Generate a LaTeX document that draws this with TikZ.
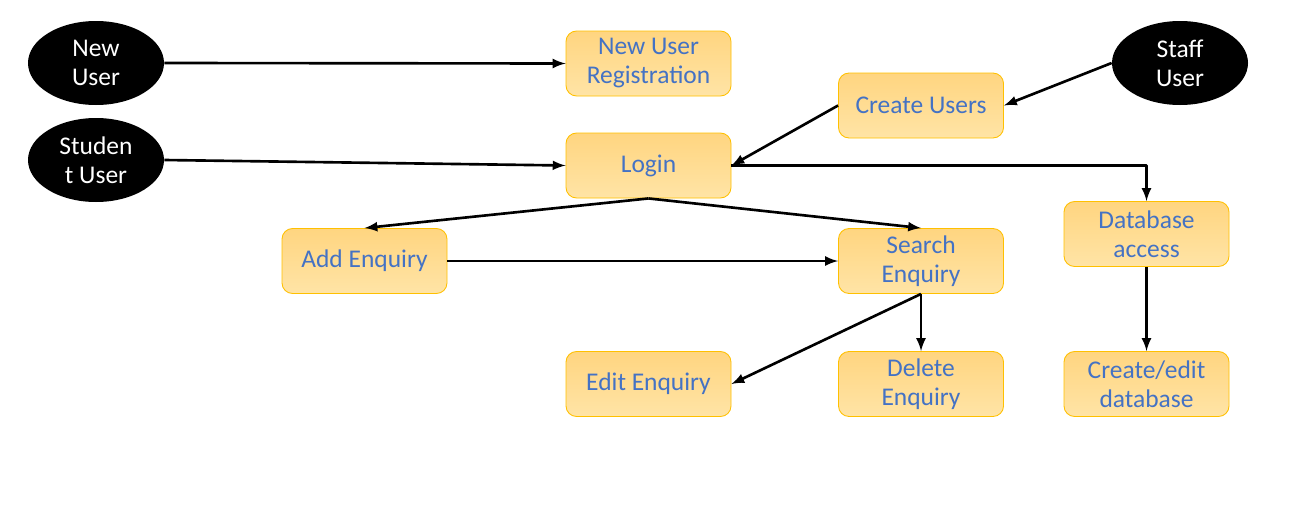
\documentclass[tikz,border=0pt]{standalone}
\usepackage{fontspec}
\setmainfont{Carlito}
\usetikzlibrary{shapes.geometric}

\definecolor{boxtop}{HTML}{FFD580}
\definecolor{boxbot}{HTML}{FFE4A6}
\definecolor{boxline}{HTML}{FFC000}
\definecolor{boxtext}{HTML}{4472C4}

\tikzset{
    actor/.style={ellipse, fill=black, text=white, minimum width=2.72cm, minimum height=1.68cm,
        inner sep=0pt, align=center, font=\fontsize{14.5}{16.5}\selectfont},
    task/.style={rounded corners=6pt, draw=boxline, line width=0.5pt, top color=boxtop, bottom color=boxbot,
        text=boxtext, minimum width=3.3cm, minimum height=1.3cm, inner sep=0pt, align=center,
        font=\fontsize{14.5}{16.5}\selectfont},
    flow/.style={->, line width=1.5pt}
}

\begin{document}
\begin{tikzpicture}[line join=round,>=latex]

        % Page frame
        \useasboundingbox (0,0) rectangle (25.9,10.12);

        % Users
        \node[actor] (newuser) at (1.92,8.86) {New\\User};
        \node[actor] (student) at (1.92,6.92) {Studen\\t User};
        \node[actor] (staff) at (23.6,8.86) {Staff\\User};

        % Tasks
        \node[task] (register) at (12.97,8.85) {New User\\Registration};
        \node[task] (createusers) at (18.42,8.01) {Create Users};
        \node[task] (login) at (12.97,6.81) {Login};
        \node[task] (addenq) at (7.29,4.90) {Add Enquiry};
        \node[task] (searchenq) at (18.42,4.90) {Search\\Enquiry};
        \node[task] (dbaccess) at (22.93,5.44) {Database\\access};
        \node[task] (editenq) at (12.97,2.44) {Edit Enquiry};
        \node[task] (deleteenq) at (18.42,2.44) {Delete\\Enquiry};
        \node[task] (editdb) at (22.93,2.44) {Create/edit\\database};

        % Connectors
        \draw[flow] (newuser.east) -- (register.west);
        \draw[flow] (student.east) -- (login.west);
        \draw[flow] (staff.west) -- (createusers.east);
        \draw[flow] (createusers.west) -- (login.east);
        \draw[flow] (login.east) -| (dbaccess.north);
        \draw[flow] (login.south) -- (addenq.north);
        \draw[flow] (login.south) -- (searchenq.north);
        \draw[flow] (addenq.east) -- (searchenq.west);
        \draw[flow] (searchenq.south) -- (editenq.east);
        \draw[flow] (searchenq.south) -- (deleteenq.north);
        \draw[flow] (dbaccess.south) -- (editdb.north);

    \end{tikzpicture}
\end{document}
